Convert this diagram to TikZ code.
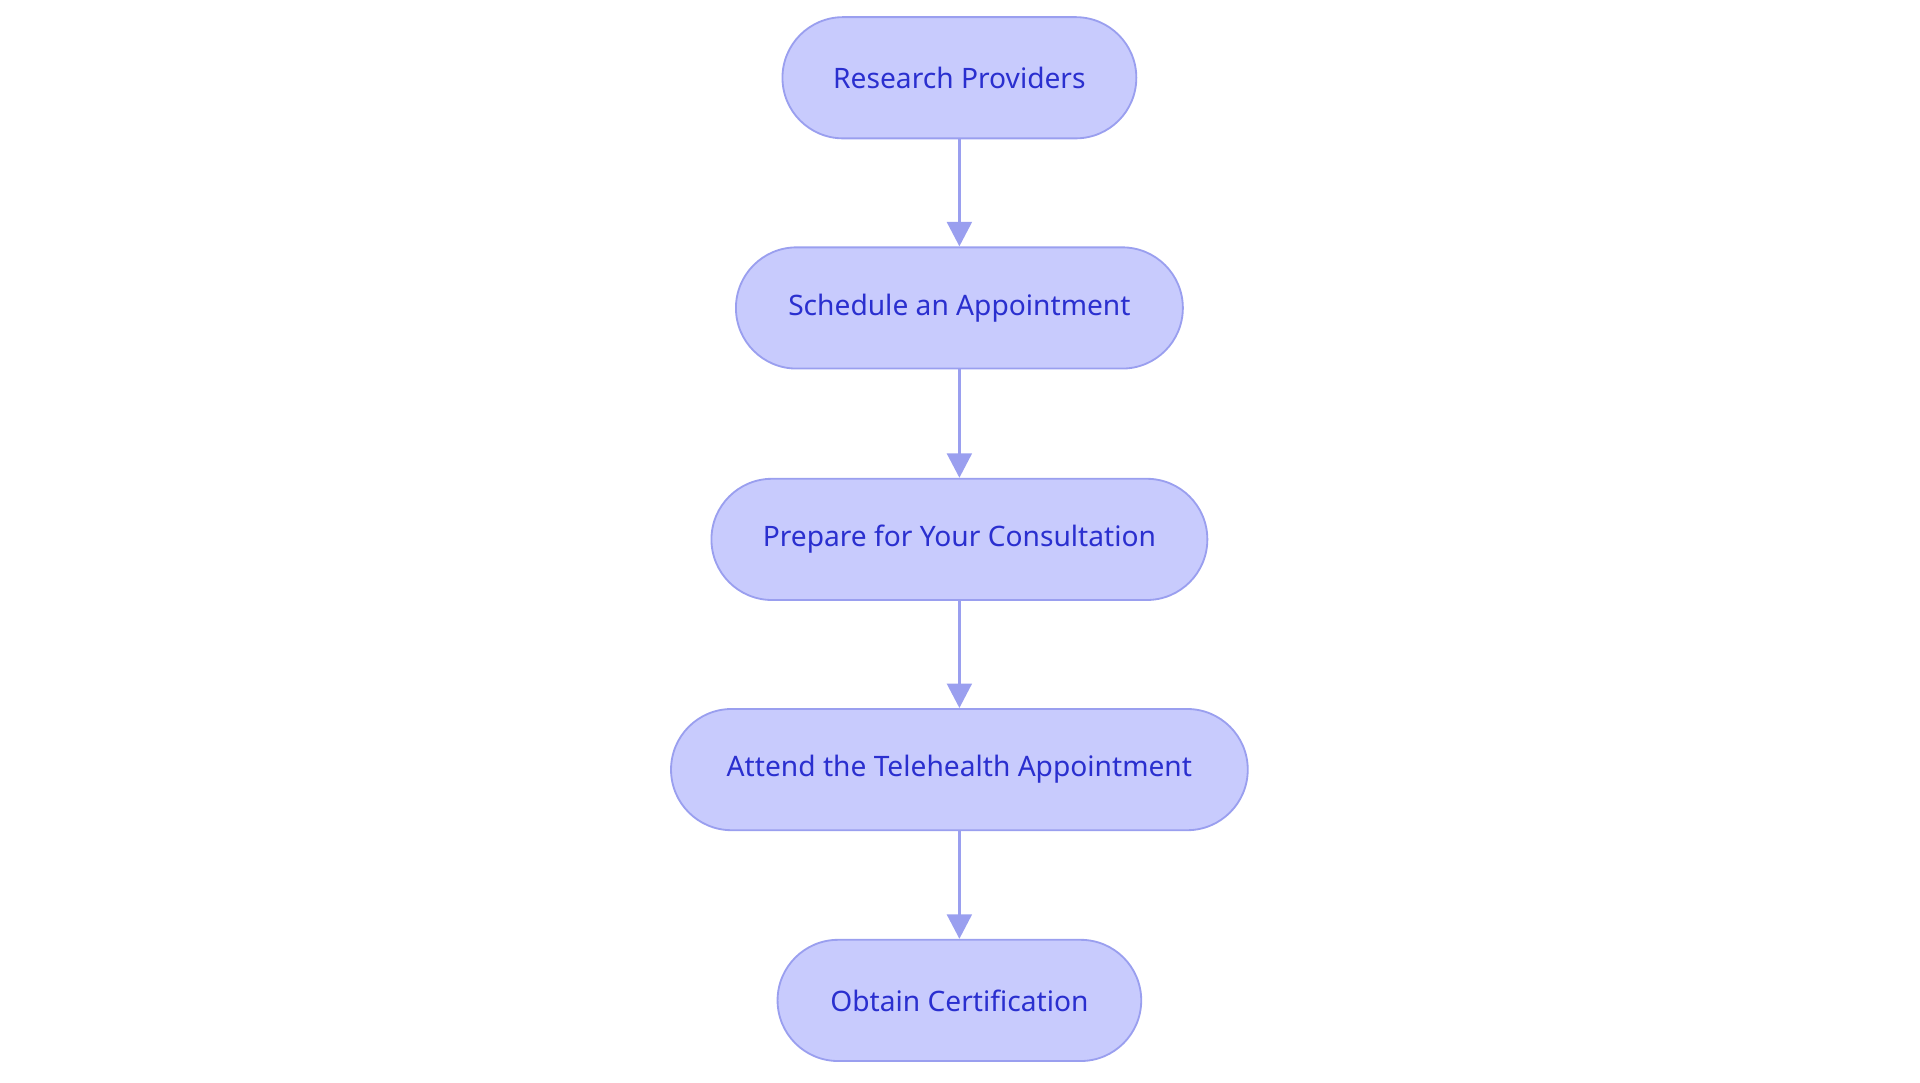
\documentclass[tikz,border=0pt]{standalone}
\usepackage{fontspec}
\setmainfont{Noto Sans}
\usetikzlibrary{arrows.meta}
\definecolor{nfill}{HTML}{C8CBFD}
\definecolor{ndraw}{HTML}{9A9FEF}
\definecolor{ntext}{HTML}{2A2FCF}
\begin{document}
\begin{tikzpicture}[x=1pt,y=-1pt,
  flowbox/.style={rectangle, draw=ndraw, fill=nfill, line width=1.5pt, text=ntext,
    font=\fontsize{23}{28}\selectfont, minimum height=99pt, rounded corners=49.5pt, inner sep=0pt},
  arr/.style={draw=ndraw, line width=3pt, -{Triangle[length=20pt,width=20pt]}}]
\useasboundingbox (0,0) rectangle (1568,884);
\node[flowbox, minimum width=289pt] (a) at (783.5,63.5) {Research Providers};
\node[flowbox, minimum width=365pt] (b) at (783.5,251.5) {Schedule an Appointment};
\node[flowbox, minimum width=405pt] (c) at (783.5,440.5) {Prepare for Your Consultation};
\node[flowbox, minimum width=471pt] (d) at (783.5,628.5) {Attend the Telehealth Appointment};
\node[flowbox, minimum width=297pt] (e) at (783.5,817) {Obtain Certification};
\draw[arr] (a) -- (b);
\draw[arr] (b) -- (c);
\draw[arr] (c) -- (d);
\draw[arr] (d) -- (e);
\end{tikzpicture}
\end{document}
